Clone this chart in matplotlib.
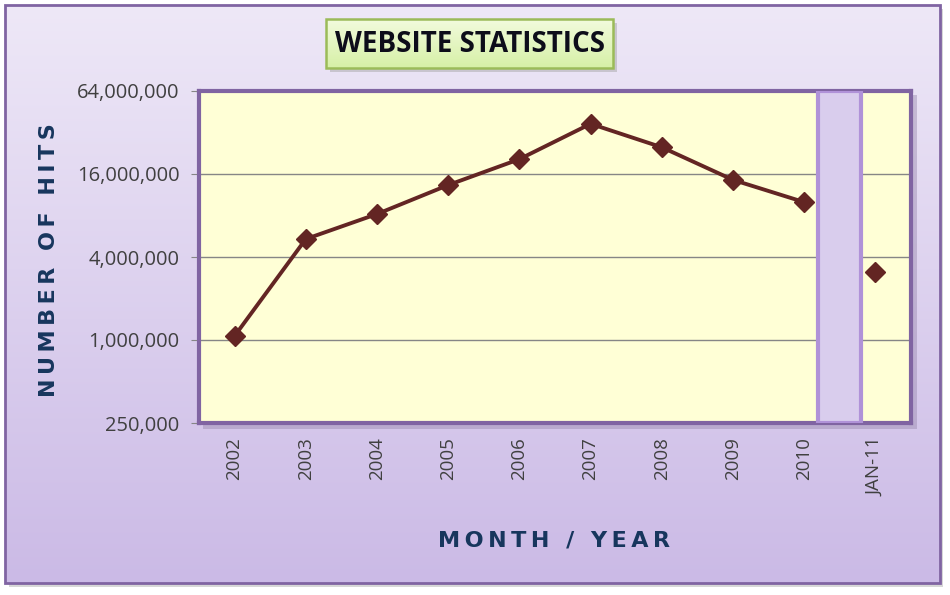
import numpy as np
import matplotlib
matplotlib.use("Agg")
import matplotlib.pyplot as plt
from matplotlib.patches import Rectangle
from matplotlib.ticker import FixedLocator, FuncFormatter
from matplotlib.colors import LinearSegmentedColormap

categories = ["2002", "2003", "2004", "2005", "2006", "2007", "2008", "2009", "2010", "JAN-11"]
hits = [1070000, 5400000, 8200000, 13300000, 20500000, 37000000, 25000000, 14500000, 10000000, 3100000]
n_connected = 9  # yearly totals joined by the line; the month point stands alone
y_ticks = [250000, 1000000, 4000000, 16000000, 64000000]
title = "WEBSITE STATISTICS"
ylabel = "NUMBER OF HITS"
xlabel = "MONTH / YEAR"

TS = "\u2009"


def spaced(s):
    return (TS + " " + TS).join(TS.join(w) for w in s.split(" "))


W, H = 950, 595
fig = plt.figure(figsize=(W / 100, H / 100), dpi=100)
fig.patch.set_facecolor("white")

# background gradient panel
bg = fig.add_axes([0, 0, 1, 1], zorder=-10)
bg.set_xlim(0, W); bg.set_ylim(H, 0); bg.axis("off")
grad = np.linspace(0, 1, 256)[:, None]
cm_bg = LinearSegmentedColormap.from_list("bg", ["#EEE8F7", "#CBBAE6"])
bg.add_patch(Rectangle((9, 9), 934, 578, fc="#BDBDBD", ec="none", alpha=0.6))
bg.imshow(grad, cmap=cm_bg, extent=[5, 940, 583, 5], aspect="auto", zorder=1)
bg.add_patch(Rectangle((5, 5), 935, 578, fc="none", ec="#8064A2", lw=2, zorder=3))

# title box
cm_t = LinearSegmentedColormap.from_list("tb", ["#F2FBDD", "#D6F0A6"])
bg.add_patch(Rectangle((330, 23), 287, 49, fc="#A8A8A8", ec="none", alpha=0.5, zorder=2))
bg.imshow(grad, cmap=cm_t, extent=[326, 613, 68, 19], aspect="auto", zorder=3)
bg.add_patch(Rectangle((326, 19), 287, 49, fc="none", ec="#9BBB59", lw=1.8, zorder=4))
bg.text(470, 44, title, ha="center", va="center", fontsize=20, fontweight="bold",
        family="Open Sans", color="#0D0D1A", zorder=5)

# plot-area shadow
bg.add_patch(Rectangle((203, 95), 714, 334, fc="#9A8AAE", ec="none", alpha=0.45, zorder=2))

L, R, T, B = 199, 911, 91, 423
ax = fig.add_axes([L / W, 1 - B / H, (R - L) / W, (B - T) / H])
ax.set_facecolor("#FFFFD6")
x = np.arange(len(categories))
ax.set_yscale("log", base=2)
ax.set_ylim(y_ticks[0], y_ticks[-1])
ax.set_xlim(-0.5, len(categories) - 0.5)

ax.yaxis.set_major_locator(FixedLocator(y_ticks))
ax.yaxis.set_minor_locator(FixedLocator([]))
ax.yaxis.set_major_formatter(FuncFormatter(lambda v, p: f"{int(round(v)):,}"))
ax.grid(axis="y", color="#868686", lw=1)
ax.set_axisbelow(True)

# separator band between yearly and monthly data
ax.bar(n_connected - 0.5, y_ticks[-1] - y_ticks[0], bottom=y_ticks[0], width=0.6,
       color="#D9CDED", edgecolor="#B092D8", lw=3, zorder=3)

ax.plot(x[:n_connected], hits[:n_connected], color="#632523", lw=2.8, zorder=4)
ax.plot(x, hits, ls="none", marker="D", ms=10, color="#632523", zorder=5)

ax.set_xticks(x)
ax.set_xticklabels(categories, rotation=90, fontsize=13.5, color="#404040", family="Open Sans")
ax.tick_params(axis="x", length=0, pad=10)
ax.tick_params(axis="y", length=6, color="#868686", labelsize=14.5, labelcolor="#404040", pad=8)
for lab in ax.get_yticklabels():
    lab.set_family("Open Sans")

for s in ax.spines.values():
    s.set_color("#8064A2"); s.set_linewidth(3)

fig.text(49 / W, 1 - 260 / H, spaced(ylabel),
         rotation=90, ha="center", va="center", fontsize=16, fontweight="heavy",
         color="#17365D", family="DejaVu Sans")
fig.text(554 / W, 1 - 541 / H, spaced(xlabel),
         ha="center", va="center", fontsize=16, fontweight="heavy",
         color="#17365D", family="DejaVu Sans")

fig.savefig("out.png", dpi=100, facecolor="white")
